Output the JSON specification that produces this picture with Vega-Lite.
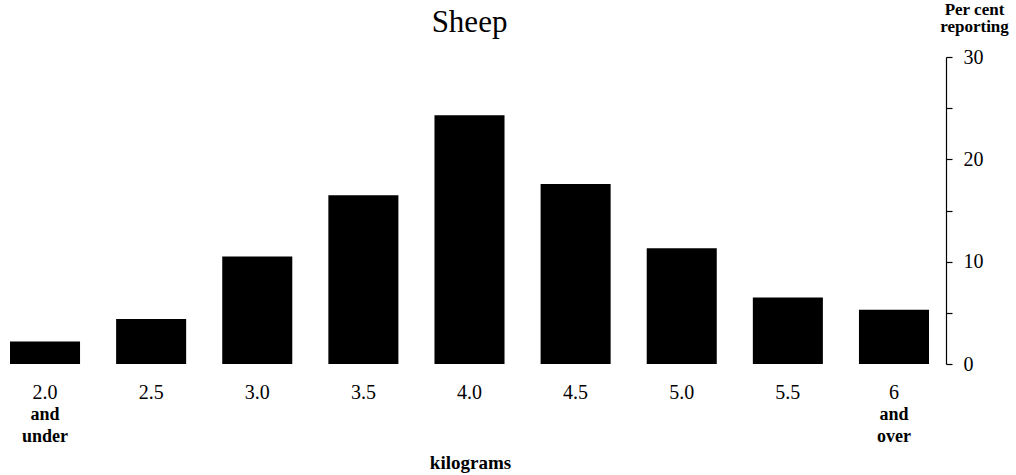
{
  "$schema": "https://vega.github.io/schema/vega-lite/v6.json",
  "autosize": {"type": "none"},
  "padding": {"left": 10, "top": 57, "right": 87, "bottom": 111},
  "width": 919,
  "height": 307,
  "background": "white",
  "config": {
    "view": {"stroke": null},
    "font": "Liberation Serif",
    "axis": {"labelFont": "Liberation Serif", "titleFont": "Liberation Serif", "labelColor": "black", "titleColor": "black", "grid": false}
  },
  "title": {
    "text": "Sheep",
    "frame": "group",
    "anchor": "middle",
    "baseline": "alphabetic",
    "offset": 23,
    "dy": 86,
    "fontSize": 31,
    "fontWeight": "normal",
    "font": "Liberation Serif",
    "color": "black"
  },
  "data": {
    "values": [
      {"kg": "2.0", "pct": 2.2, "note": "and\nunder"},
      {"kg": "2.5", "pct": 4.4, "note": null},
      {"kg": "3.0", "pct": 10.5, "note": null},
      {"kg": "3.5", "pct": 16.5, "note": null},
      {"kg": "4.0", "pct": 24.3, "note": null},
      {"kg": "4.5", "pct": 17.6, "note": null},
      {"kg": "5.0", "pct": 11.3, "note": null},
      {"kg": "5.5", "pct": 6.5, "note": null},
      {"kg": "6", "pct": 5.3, "note": "and\nover"}
    ]
  },
  "encoding": {
    "x": {
      "field": "kg",
      "type": "ordinal",
      "sort": null,
      "scale": {"paddingInner": 0.34, "paddingOuter": 0},
      "axis": {
        "orient": "bottom",
        "domain": false,
        "ticks": false,
        "tickSize": 0,
        "labelAngle": 0,
        "labelFontSize": 20,
        "labelBaseline": "alphabetic",
        "labelPadding": 34,
        "title": "kilograms",
        "titleFontSize": 19,
        "titleFontWeight": "bold",
        "titleBaseline": "alphabetic",
        "titleY": 104,
        "titleX": 460
      }
    }
  },
  "layer": [
    {
      "mark": {"type": "bar", "color": "black"},
      "encoding": {
        "y": {
          "field": "pct",
          "type": "quantitative",
          "scale": {"domain": [0, 30], "nice": false},
          "axis": {
            "orient": "right",
            "offset": 17,
            "values": [0, 5, 10, 15, 20, 25, 30],
            "labelExpr": "datum.value % 10 == 0 ? datum.label : ''",
            "domainColor": "black",
            "domainWidth": 1.2,
            "tickColor": "black",
            "tickWidth": 1.2,
            "tickSize": 6,
            "labelFontSize": 20,
            "labelPadding": 11,
            "labelAlign": "left",
            "labelBaseline": "middle",
            "title": ["Per cent", "reporting"],
            "titleAngle": 0,
            "titleAlign": "center",
            "titleBaseline": "alphabetic",
            "titleX": 28,
            "titleY": -43,
            "titleFontSize": 17,
            "titleFontWeight": "bold",
            "titleLineHeight": 17
          }
        }
      }
    },
    {
      "transform": [{"filter": "datum.note != null"}],
      "mark": {
        "type": "text",
        "font": "Liberation Serif",
        "fontSize": 18,
        "fontWeight": "bold",
        "color": "black",
        "lineBreak": "\n",
        "lineHeight": 22,
        "baseline": "alphabetic",
        "align": "center",
        "dy": 56
      },
      "encoding": {
        "y": {"datum": 0, "type": "quantitative"},
        "text": {"field": "note"}
      }
    }
  ]
}
